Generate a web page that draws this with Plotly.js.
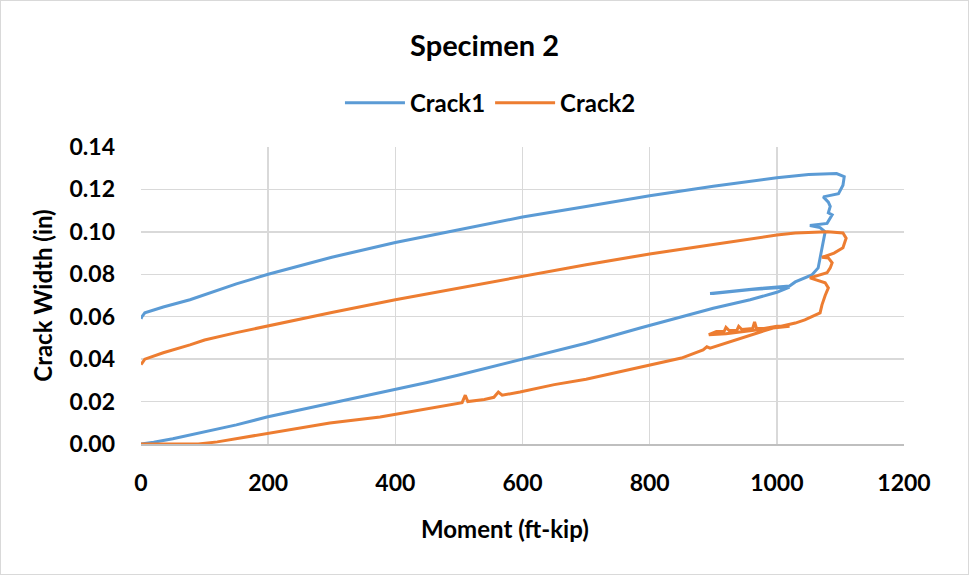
<!DOCTYPE html>
<html>
<head>
<meta charset="utf-8">
<script src="https://cdn.plot.ly/plotly-3.0.1.min.js"></script>
<style>
html,body{margin:0;padding:0;background:#fff;}
#chart{width:967px;height:573px;border:1px solid #d9d9d9;}
</style>
</head>
<body>
<div id="chart"></div>
<script>
const crack1Moment = [0,20,50,88,150,198,250,297,376,450,500,596,650,700,785,850,900,958,1000,1020,
  960,900,895,960,1020,1029,1055,1065,1068,1073,1076,1068,1052,1079,1087,1081,1084,1081,1073,1097,1104,1106,1094,1050,
  1000,900,800,700,600,500,400,300,200,150,100,77,35,6,1.5,0];
const crack1Width = [0,0.0008,0.0025,0.005,0.009,0.0127,0.016,0.019,0.024,0.029,0.0325,0.0396,0.0435,0.0475,0.0547,0.060,0.064,0.068,0.0715,0.074,
  0.0728,0.071,0.071,0.073,0.0745,0.0764,0.0797,0.083,0.0877,0.094,0.100,0.102,0.103,0.104,0.108,0.109,0.112,0.114,0.1165,0.118,0.122,0.126,0.1275,0.127,
  0.1255,0.1215,0.117,0.112,0.107,0.101,0.095,0.088,0.080,0.0755,0.0705,0.068,0.0646,0.0618,0.060,0.059];

const crack2Moment = [0,50,90,120,150,198,250,297,376,450,500,505,510,514,540,555,562,568,596,650,700,769,785,850,884,890,895,950,994,1020,
  1000,980,968,965,962,945,940,937,925,920,917,905,900,893,
  920,960,1000,1029,1044,1068,1071,1076,1081,1076,1052,1079,1084,1087,1081,1071,1090,1104,1109,1104,1080,1029,
  1000,900,800,700,600,500,400,300,200,150,100,77,35,6,1.5,0];
const crack2Width = [0,0,0,0.001,0.0025,0.005,0.0075,0.0099,0.0127,0.0165,0.019,0.0195,0.023,0.020,0.021,0.022,0.0245,0.023,0.0245,0.028,0.0305,0.035,0.036,0.0405,0.0443,0.0458,0.0452,0.0505,0.0547,0.0555,
  0.0555,0.0545,0.0545,0.0575,0.0545,0.054,0.0555,0.0535,0.0535,0.055,0.053,0.053,0.0525,0.0515,
  0.052,0.0535,0.055,0.057,0.0585,0.0618,0.0656,0.070,0.0736,0.076,0.0783,0.0807,0.083,0.0854,0.0877,0.088,0.090,0.0925,0.097,0.0995,0.100,0.0995,
  0.0985,0.094,0.0896,0.0845,0.079,0.0735,0.068,0.062,0.0557,0.0525,0.049,0.0467,0.043,0.040,0.038,0.0375];

const xTicks = [0,200,400,600,800,1000,1200];
const yTicks = [0,0.02,0.04,0.06,0.08,0.10,0.12,0.14];
const yTickText = ['0.00','0.02','0.04','0.06','0.08','0.10','0.12','0.14'];

const font = 'Lato, "Open Sans", sans-serif';

const traces = [
  {x: crack1Moment, y: crack1Width, name: '<b>Crack1</b>', mode: 'lines', line: {color: '#5b9bd5', width: 3}},
  {x: crack2Moment, y: crack2Width, name: '<b>Crack2</b>', mode: 'lines', line: {color: '#ed7d31', width: 3}}
];

const layout = {
  width: 967, height: 573,
  margin: {l: 140, r: 64, t: 146, b: 130},
  paper_bgcolor: '#fff', plot_bgcolor: '#fff',
  font: {family: font, color: '#000', size: 22},
  title: {text: '<b>Specimen 2</b>', x: 0.5, xanchor: 'center', y: 0.922, yanchor: 'middle', font: {size: 29, family: font, color: '#000'}},
  showlegend: true,
  legend: {orientation: 'h', x: 0.458, xanchor: 'center', y: 1.148, yanchor: 'middle', font: {size: 24, family: font, color: '#000'}, itemwidth: 60, tracegroupgap: 0},
  xaxis: {
    range: [0, 1200], tickvals: xTicks, ticktext: xTicks.map(v => '<b>' + v + '</b>'),
    showgrid: true, gridcolor: '#d9d9d9', gridwidth: 1.5,
    showline: true, linecolor: '#bfbfbf', linewidth: 1.5, zeroline: false,
    ticks: '', ticklabelstandoff: 18,
    tickfont: {size: 23, family: font, color: '#000'}
  },
  yaxis: {
    range: [0, 0.14], tickvals: yTicks, ticktext: yTickText.map(v => '<b>' + v + '</b>'),
    showgrid: true, gridcolor: '#d9d9d9', gridwidth: 1.5,
    showline: false, zeroline: false, ticks: '', ticklabelstandoff: 25,
    tickfont: {size: 23, family: font, color: '#000'},
    title: {text: '<b>Crack Width (in)</b>', font: {size: 24, family: font, color: '#000'}, standoff: 10}
  },
  annotations: [{
    text: '<b>Moment (ft-kip)</b>', xref: 'paper', yref: 'paper',
    x: 0.477, y: -0.283, xanchor: 'center', yanchor: 'middle', showarrow: false,
    font: {size: 24, family: font, color: '#000'}
  }]
};

Plotly.newPlot('chart', traces, layout, {displayModeBar: false, staticPlot: true});
</script>
</body>
</html>
